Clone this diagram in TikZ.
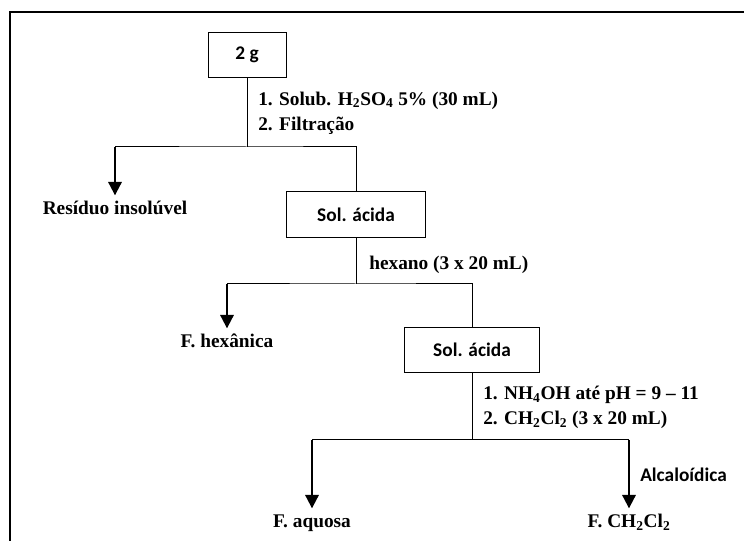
\documentclass[tikz,border=0pt]{standalone}
\usepackage{fontspec}
\setmainfont{Liberation Serif}
\newfontfamily\calibri{Carlito}
\usetikzlibrary{arrows.meta}

\begin{document}
\begin{tikzpicture}[x=0.75pt, y=-0.75pt,
  stage/.style={rectangle, draw, line width=0.75pt, minimum height=34pt, font=\calibri\bfseries\fontsize{14.5}{17}\selectfont},
  product/.style={font=\bfseries\fontsize{14.5}{17}\selectfont, inner sep=0pt, text height=10pt, text depth=3pt, outer ysep=4.5pt},
  note/.style={font=\bfseries\fontsize{14.5}{19}\selectfont, align=left, anchor=west, inner sep=0pt},
  link/.style={line width=0.75pt},
  flow/.style={line width=1.5pt, -{Triangle[width=10pt, length=10pt]}}]
  \useasboundingbox (0,0) rectangle (744,541);
  \clip (0,0) rectangle (744,541);
  \draw[line width=1.5pt] (10,560) -- (10,12) -- (760,12);
  % stages
  \node[stage, minimum width=58.5pt] (start) at (247,55) {2 g};
  \node[stage, minimum width=104pt] (acid1) at (356,214.5) {Sol. ácida};
  \node[stage, minimum width=101pt] (acid2) at (472,350) {Sol. ácida};
  % fractions
  \node[product] (residue) at (115,210) {Resíduo insolúvel};
  \node[product] (hexane) at (227,343) {F. hexânica};
  \node[product] (aqueous) at (312,523) {F. aquosa};
  \node[product] (organic) at (629,523) {F. CH\textsubscript{2}Cl\textsubscript{2}};
  % steps
  \node[note] (step1) at (258,113) {1. Solub. H\textsubscript{2}SO\textsubscript{4} 5\% (30 mL)\\2. Filtração};
  \node[note] (step2) at (369,265) {hexano (3 x 20 mL)};
  \node[note] (step3) at (483,407.5) {1. NH\textsubscript{4}OH até pH = 9 – 11\\2. CH\textsubscript{2}Cl\textsubscript{2} (3 x 20 mL)};
  \node[note, font=\calibri\bfseries\fontsize{14.5}{17}\selectfont] (alkaloid) at (640,475) {Alcaloídica};
  % branch points
  \coordinate (split1) at (247,147);
  \coordinate (left1) at (residue |- split1);
  \coordinate (split2) at (356,284);
  \coordinate (left2) at (hexane |- split2);
  \coordinate (split3) at (472,440);
  \coordinate (left3) at (aqueous |- split3);
  \coordinate (right3) at (organic |- split3);
  \draw[link] (start) -- (split1);
  \draw[link] (left1) -- (split1) -| (acid1);
  \draw[flow] (left1) -- (residue);
  \draw[link] (acid1) -- (split2);
  \draw[link] (left2) -- (split2) -| (acid2);
  \draw[flow] (left2) -- (hexane);
  \draw[link] (acid2) -- (split3);
  \draw[link] (left3) -- (right3);
  \draw[flow] (left3) -- (aqueous);
  \draw[flow] (right3) -- (organic);
\end{tikzpicture}
\end{document}
